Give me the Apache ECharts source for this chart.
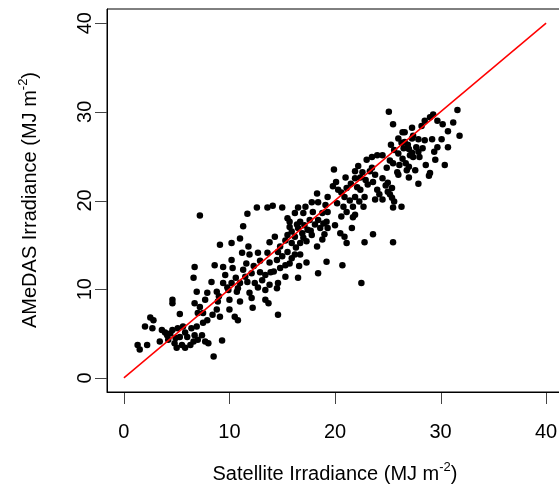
<!DOCTYPE html>
<html>
<head>
<meta charset="utf-8">
<script src="https://cdn.jsdelivr.net/npm/echarts@6/dist/echarts.min.js"></script>
<style>
html,body{margin:0;padding:0;background:#fff;overflow:hidden;}
#chart{width:565px;height:490px;}
</style>
</head>
<body>
<div id="chart"></div>
<script>
// Satellite (x) vs AMeDAS (y) daily irradiance, MJ m-2
const satellite = [
25.1,25.5,26.4,26.6,27.3,28.2,28.5,29.0,29.3,29.7,30.2,30.7,31.2,31.6,31.8,26.6,27.3,27.4,27.9,28.5,29.2,30.1,30.7,29.7,29.4,24.5,25.2,25.5,26.4,27.0,27.3,27.4,28.0,29.5,30.4,24.9,25.9,27.0,29.0,26.9,27.1,26.5,27.7,26.7,26.1,25.6,
19.9,21.9,22.2,23.0,23.5,23.5,24.0,22.6,
7.2,9.1,10.2,11.0,11.3,11.7,12.6,13.6,14.1,15.0,14.3,13.8,11.8,14.8,15.3,
20.1,21.9,22.4,23.8,20.3,21.1,22.1,22.4,18.3,19.3,20.9,21.9,22.8,23.8,24.0,17.8,18.4,19.1,20.2,20.8,21.7,22.7,16.5,17.2,16.2,17.0,17.9,18.8,19.3,21.1,21.9,15.5,15.7,16.7,17.6,18.4,19.2,20.0,21.7,15.7,16.5,17.4,18.6,19.3,20.5,20.9,21.6,15.5,16.2,17.0,17.8,15.9,16.7,18.3,21.1,22.8,23.6,23.6,
24.5,25.0,25.4,25.0,24.5,25.4,25.6,25.5,26.3,27.0,27.9,28.9,25.5,26.0,
6.7,6.6,6.9,4.6,4.6,6.7,5.3,7.0,2.5,
11.2,11.9,12.7,13.6,13.8,14.5,14.8,8.6,9.4,10.3,11.3,12.1,12.9,13.4,9.6,8.3,9.4,10.2,11.0,11.7,12.4,13.1,13.8,14.6,15.3,8.8,9.9,10.7,11.9,13.4,14.5,7.9,7.7,8.9,10.0,11.0,12.1,13.4,13.7,12.2,8.8,10.0,7.2,7.5,8.4,9.1,10.5,14.6,
15.3,15.9,16.7,17.3,16.5,18.4,19.2,20.7,22.5,15.5,16.2,
2.0,2.7,2.2,1.3,1.5,3.6,4.4,4.6,5.1,5.6,4.2,3.4,4.8,5.5,5.8,6.3,6.7,7.0,6.0,4.1,6.4,6.9,2.8,
7.5,7.9,7.4,7.7,8.0,9.3,8.5,10.8,
15.9,16.4,17.1,17.7,18.1,16.9,18.9,17.3,16.3,19.0,18.8,
20.6,21.4,22.3,20.6,23.1,21.5,19.8,
10.6,11.5,12.3,9.8,10.8,12.7,13.9,12.9,11.6,10.2,14.2,9.0,
5.3,5.8,4.9,6.6,5.0,3.9,
26.0,26.3,27.9,28.3,26.0,25.3,28.6,27.6,26.8,
24.8,25.2,24.2,
22.9,23.3,21.0,
15.0,15.7,16.6,14.6
];
const amedas = [
30.0,28.6,27.7,27.7,28.2,28.4,29.0,29.4,29.7,29.0,28.6,27.8,28.8,30.2,27.3,26.6,27.0,27.3,26.9,26.8,26.9,26.9,26.0,26.0,25.5,25.1,24.5,24.2,24.7,25.8,25.4,24.9,24.9,24.6,24.0,23.7,23.2,23.8,23.1,26.3,25.1,25.9,26.0,24.2,24.0,25.7,
23.5,23.3,23.9,24.6,24.9,23.7,25.1,23.2,
18.3,15.0,15.2,15.7,17.1,18.5,19.2,19.2,19.4,19.2,15.9,15.3,14.8,14.8,15.5,
22.1,22.5,22.6,22.9,21.2,21.4,21.5,21.2,20.8,20.4,20.4,20.4,20.4,20.1,21.2,19.8,19.8,19.5,19.7,19.3,19.3,19.3,19.2,19.3,18.6,18.6,18.7,18.6,18.7,18.7,18.4,18.0,17.6,17.6,17.8,17.8,17.6,17.2,18.1,17.0,16.9,16.7,16.9,16.9,16.3,15.9,16.9,16.1,15.9,15.8,16.1,15.2,15.2,14.8,15.2,15.3,16.2,22.1,
22.5,22.0,21.4,21.0,20.1,20.3,19.9,19.2,19.3,22.6,21.9,22.8,15.3,22.9,
12.5,11.3,9.7,8.8,8.4,8.4,7.2,7.3,6.8,
14.1,13.9,14.1,14.1,13.0,13.3,12.4,12.7,12.5,12.4,12.2,11.8,11.9,11.6,11.6,10.8,10.7,10.7,10.7,10.8,10.7,11.0,10.5,10.7,11.4,9.7,9.9,9.7,9.6,9.9,10.1,9.6,8.8,8.6,8.8,8.6,9.0,8.8,8.4,7.9,7.7,7.7,8.0,7.3,7.1,6.9,6.9,7.1,
12.7,13.5,13.9,13.0,11.3,11.8,13.1,12.7,10.7,14.2,13.9,
5.8,5.6,3.7,3.7,3.2,5.4,5.0,5.4,5.6,5.8,4.3,4.1,3.9,3.7,3.4,3.7,4.8,4.3,4.6,4.8,5.6,5.8,6.5,
6.2,6.5,4.8,4.1,3.9,4.2,2.4,6.5,
16.5,17.3,17.2,16.6,17.3,16.3,17.4,15.4,14.7,16.2,15.6,
20.9,20.0,19.9,18.2,21.8,21.9,21.6,
11.3,11.4,12.6,10.2,10.1,10.2,11.9,13.2,12.9,13.3,12.0,9.2,
4.6,5.1,4.5,4.1,3.4,5.1,
25.3,26.5,25.5,25.9,27.0,26.3,24.0,23.4,23.4,
21.7,20.7,20.7,
22.3,23.3,22.6,
13.7,12.9,12.6,14.2
];
const tickValues = [0, 10, 20, 30, 40];
const oneToOne = [[0, 0], [40, 40]];

const points = satellite.map((v, i) => [v, amedas[i]]);
const fontFam = '"Liberation Sans", Arial, Helvetica, sans-serif';
const FS = 20;
const AX_MIN = -1.6, AX_MAX = 41.6, TICK_LEN = 12;

function makeAxis(labelExtra) {
  return {
    type: 'value', min: AX_MIN, max: AX_MAX,
    axisLine: {show: true, onZero: false, lineStyle: {color: '#000', width: 1}},
    splitLine: {show: false},
    axisTick: {show: false},
    axisLabel: Object.assign({customValues: tickValues, color: '#000', fontSize: FS, fontFamily: fontFam}, labelExtra)
  };
}
const richStyle = {
  a: {fontSize: FS, fontFamily: fontFam, lineHeight: 26, fill: '#000'},
  s: {fontSize: 13, fontFamily: fontFam, lineHeight: 12, verticalAlign: 'top', fill: '#000'}
};
const titles = [
  {id: 'xt', type: 'text', x: 335, y: 474, style: {
    text: '{a|Satellite Irradiance (MJ m}{s|-2}{a|)}', textAlign: 'center', textVerticalAlign: 'middle', rich: richStyle
  }},
  {id: 'yt', type: 'text', x: 30, y: 200, rotation: Math.PI / 2, style: {
    text: '{a|AMeDAS Irradiance (MJ m}{s|-2}{a|)}', textAlign: 'center', textVerticalAlign: 'middle', rich: richStyle
  }}
];
const chart = echarts.init(document.getElementById('chart'));
chart.setOption({
  animation: false,
  grid: {left: 107, right: 2, top: 9, bottom: 98, show: true, borderColor: '#000'},
  xAxis: makeAxis({margin: 30}),
  yAxis: makeAxis({margin: 12, rotate: 90}),
  graphic: titles,
  series: [
    {type: 'scatter', data: points, symbol: 'circle', symbolSize: 6.5, itemStyle: {color: '#000', opacity: 1}, z: 2},
    {type: 'line', data: oneToOne, symbol: 'none', lineStyle: {color: '#ff0000', width: 1.5}, z: 3}
  ]
});

// Outward R-style ticks, positioned through the chart's own axis scales
const yBottom = chart.convertToPixel({yAxisIndex: 0}, AX_MIN);
const xLeft = chart.convertToPixel({xAxisIndex: 0}, AX_MIN);
const tickStyle = {stroke: '#444', lineWidth: 1};
const ticks = [];
tickValues.forEach((v, i) => {
  const px = Math.round(chart.convertToPixel({xAxisIndex: 0}, v)) + 0.5;
  ticks.push({id: 'xtick' + i, type: 'line', silent: true,
    shape: {x1: px, y1: Math.round(yBottom), x2: px, y2: Math.round(yBottom) + TICK_LEN}, style: tickStyle});
  const py = Math.round(chart.convertToPixel({yAxisIndex: 0}, v)) + 0.5;
  ticks.push({id: 'ytick' + i, type: 'line', silent: true,
    shape: {x1: Math.round(xLeft) - TICK_LEN, y1: py, x2: Math.round(xLeft), y2: py}, style: tickStyle});
});
chart.setOption({graphic: titles.concat(ticks)});
</script>
</body>
</html>
